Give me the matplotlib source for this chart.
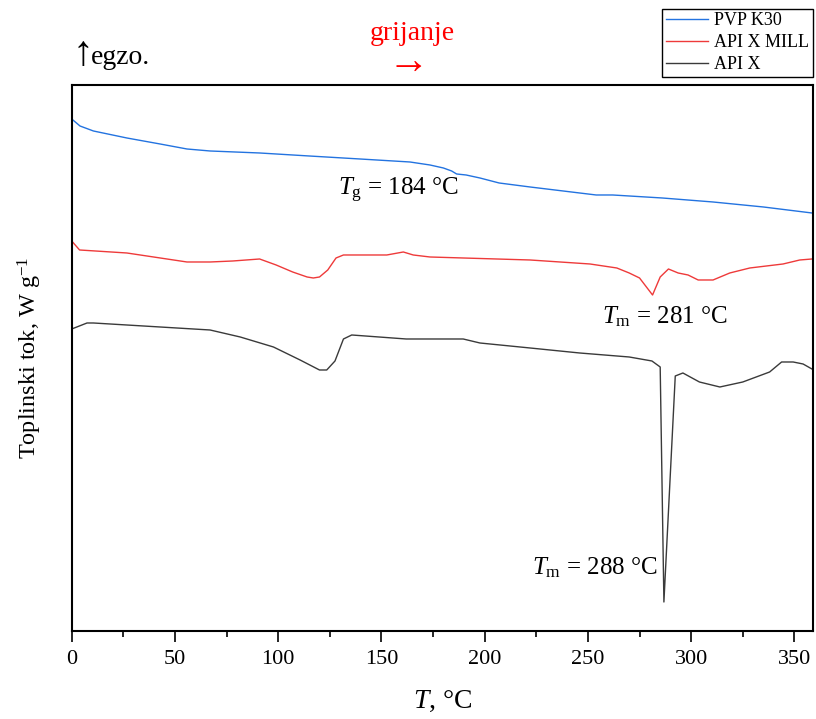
import matplotlib
matplotlib.use("Agg")
import matplotlib.pyplot as plt
from matplotlib.ticker import MultipleLocator

plt.rcParams["font.family"] = ["Liberation Serif", "DejaVu Serif"]
plt.rcParams["mathtext.fontset"] = "custom"
plt.rcParams["mathtext.rm"] = "Liberation Serif"
plt.rcParams["mathtext.it"] = "Liberation Serif:italic"

# DSC traces, curves shifted vertically for clarity
t_pvp = [0, 4, 10.5, 26.7, 42.8, 55.8, 67, 91, 115, 139.6, 163.8, 173.5, 180,
         184, 186.4, 191, 197.7, 207, 222, 238, 254, 262, 286, 310.6, 335, 358.5]
q_pvp = [5.12, 5.05, 5.00, 4.93, 4.87, 4.82, 4.80, 4.78, 4.75, 4.72, 4.69, 4.66,
         4.63, 4.60, 4.57, 4.56, 4.53, 4.48, 4.44, 4.40, 4.36, 4.36, 4.33, 4.29,
         4.24, 4.18]

t_mill = [0, 3.8, 26.7, 55.8, 67, 78, 91, 99, 107, 114, 117, 120, 124, 128,
          131.6, 152.6, 160.6, 165.4, 173.5, 189.6, 222, 251, 264, 270, 275,
          281.3, 285, 289, 293.7, 298.5, 303.4, 310.6, 318.7, 328.4, 344.5,
          352.6, 358.5]
q_mill = [3.90, 3.81, 3.78, 3.69, 3.69, 3.70, 3.72, 3.66, 3.59, 3.54, 3.53,
          3.54, 3.61, 3.73, 3.76, 3.76, 3.79, 3.76, 3.74, 3.73, 3.71, 3.67,
          3.63, 3.58, 3.53, 3.36, 3.54, 3.62, 3.58, 3.56, 3.51, 3.51, 3.58,
          3.63, 3.67, 3.71, 3.72]

t_api = [0, 7.4, 10.5, 42.8, 67, 81.6, 97.7, 110.6, 120, 123.5, 127.5, 131.6,
         135.6, 162, 178, 189.6, 197.7, 222, 246, 270, 281, 285, 286.8, 292.3,
         296, 304, 313.9, 325, 338, 343.8, 349.4, 354.2, 358.5]
q_api = [3.02, 3.08, 3.08, 3.04, 3.01, 2.94, 2.84, 2.71, 2.61, 2.61, 2.70, 2.92,
         2.96, 2.92, 2.92, 2.92, 2.88, 2.83, 2.78, 2.74, 2.70, 2.64, 0.29, 2.55,
         2.58, 2.49, 2.44, 2.49, 2.59, 2.69, 2.69, 2.67, 2.62]

labels = ["PVP K30", "API X MILL", "API X"]
colors = ["#2373e0", "#ee3a3a", "#3a3a3a"]

fig = plt.figure(figsize=(8.16, 7.19), dpi=100)
ax = fig.add_axes([0.0879, 0.1224, 0.9084, 0.7594])

for t, q, lab, c in zip([t_pvp, t_mill, t_api], [q_pvp, q_mill, q_api], labels, colors):
    ax.plot(t, q, color=c, lw=1.0, label=lab)

ax.set_xlim(0, 359)
ax.set_ylim(0, 5.46)
ax.xaxis.set_major_locator(MultipleLocator(50))
ax.xaxis.set_minor_locator(MultipleLocator(25))
ax.tick_params(axis="x", which="major", direction="out", length=8, width=1.2,
               labelsize=16, pad=6)
ax.tick_params(axis="x", which="minor", direction="out", length=4, width=1.2)
ax.set_yticks([])
for s in ax.spines.values():
    s.set_linewidth(1.5)

ax.set_xlabel(r"$T$, °C", fontsize=20, labelpad=14)
ax.set_ylabel(r"Toplinski tok, W g$^{-1}$", fontsize=17.5, labelpad=20)

# peak annotations
ax.text(129, 4.41, r"$T_{\mathrm{g}}$ = 184 °C", fontsize=18, ha="left", va="center")
ax.text(257, 3.14, r"$T_{\mathrm{m}}$ = 281 °C", fontsize=18, ha="left", va="center")
ax.text(223, 0.63, r"$T_{\mathrm{m}}$ = 288 °C", fontsize=18, ha="left", va="center")

# exo direction and heating direction
fig.text(82.5 / 816, 1 - 55 / 719, "↑", fontsize=30, ha="center", va="center")
fig.text(91 / 816, 1 - 57 / 719, "egzo.", fontsize=20, ha="left", va="center")
fig.text(412 / 816, 1 - 34 / 719, "grijanje", fontsize=20, color="red",
         ha="center", va="center")
fig.text(408 / 816, 1 - 63 / 719, "→", fontsize=30, color="red",
         ha="center", va="center")

leg = fig.legend(loc="upper right", bbox_to_anchor=(812.5 / 816, 1 - 8.5 / 719),
                 fontsize=13, frameon=True, fancybox=False, framealpha=1,
                 edgecolor="black", borderpad=0.2, borderaxespad=0,
                 handlelength=2.3, handletextpad=0.35, labelspacing=0.28)
leg.get_frame().set_linewidth(1.0)

fig.savefig("out.png", dpi=100)
